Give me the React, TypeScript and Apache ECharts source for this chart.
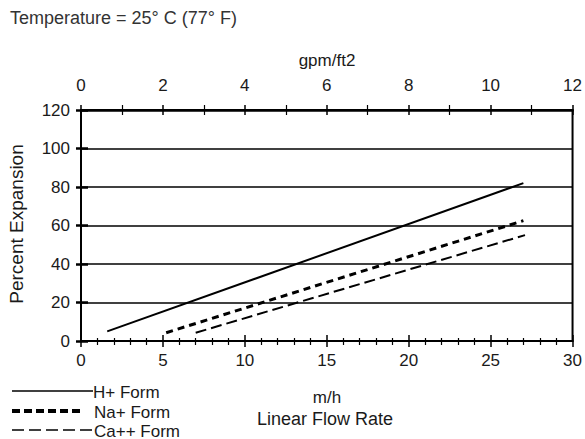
import React, { useEffect, useRef } from "react";
import * as echarts from "echarts";

const hX = [1.6, 27];
const hY = [5, 82];
const naX = [5.2, 27];
const naY = [4.3, 62.5];
const caX = [7, 27.1];
const caY = [4.3, 55];

const bottomTicks = [0, 5, 10, 15, 20, 25, 30];
const topTicks = [0, 2, 4, 6, 8, 10, 12];
const yTicks = [0, 20, 40, 60, 80, 100, 120];

const FONT = "Liberation Sans, Arial, Helvetica, sans-serif";
const TXT = "#1a1a1a";

const pairs = (xs: number[], ys: number[]) => xs.map((x, i) => [x, ys[i]]);

export default function App() {
  const ref = useRef<HTMLDivElement>(null);
  useEffect(() => {
    if (!ref.current) return;
    const chart = echarts.init(ref.current, undefined, { renderer: "svg" });
    const labelStyle = { fontFamily: FONT, fontSize: 17, color: TXT };
    const baseX = {
      type: "value" as const,
      min: bottomTicks[0],
      max: bottomTicks[bottomTicks.length - 1],
      interval: 5,
      splitLine: { show: false },
    };
    const topX = {
      type: "value" as const,
      min: topTicks[0],
      max: topTicks[topTicks.length - 1],
      interval: 2,
      splitLine: { show: false },
      position: "top" as const,
    };
    const baseY = {
      type: "value" as const,
      min: yTicks[0],
      max: yTicks[yTicks.length - 1],
      interval: 20,
    };
    chart.setOption({
      animation: false,
      backgroundColor: "#ffffff",
      grid: {
        left: 81,
        right: 11,
        top: 110,
        bottom: 98,
        show: true,
        borderColor: "#000",
        borderWidth: 2,
        backgroundColor: "transparent",
      },
      xAxis: [
        {
          ...baseX,
          position: "bottom",
          axisLine: { show: true, lineStyle: { color: "#000", width: 2 } },
          axisTick: { show: true, inside: false, length: 6, lineStyle: { color: "#000", width: 1.5 } },
          minorTick: { show: true, splitNumber: 5, length: 4, lineStyle: { color: "#000", width: 1.2 } },
          axisLabel: { ...labelStyle, margin: 11 },
        },
        {
          ...baseX,
          position: "bottom",
          axisLine: { show: false },
          axisTick: { show: true, inside: true, length: 6, lineStyle: { color: "#000", width: 1.5 } },
          minorTick: { show: true, splitNumber: 5, length: 3, lineStyle: { color: "#000", width: 1.2 } },
          axisLabel: { show: false },
        },
        {
          ...topX,
          axisLine: { show: true, lineStyle: { color: "#000", width: 2.5 } },
          axisTick: { show: true, inside: false, length: 5, lineStyle: { color: "#000", width: 1.5 } },
          minorTick: { show: true, splitNumber: 2, length: 5, lineStyle: { color: "#000", width: 1.2 } },
          axisLabel: { ...labelStyle, margin: 16 },
        },
        {
          ...topX,
          axisLine: { show: false },
          axisTick: { show: true, inside: true, length: 5, lineStyle: { color: "#000", width: 1.5 } },
          minorTick: { show: true, splitNumber: 2, length: 5, lineStyle: { color: "#000", width: 1.2 } },
          axisLabel: { show: false },
        },
      ],
      yAxis: [
        {
          ...baseY,
          position: "left",
          axisLine: { show: true, lineStyle: { color: "#000", width: 2 } },
          axisTick: { show: true, inside: false, length: 5, lineStyle: { color: "#000", width: 2.5 } },
          splitLine: { show: true, lineStyle: { color: "#000", width: 1.5 } },
          axisLabel: { ...labelStyle, margin: 11 },
        },
        {
          ...baseY,
          position: "left",
          axisLine: { show: false },
          axisTick: { show: true, inside: true, length: 7, lineStyle: { color: "#000", width: 2.5 } },
          splitLine: { show: false },
          axisLabel: { show: false },
        },
      ],
      series: [
        {
          name: "H+ Form",
          type: "line",
          xAxisIndex: 0,
          yAxisIndex: 0,
          data: pairs(hX, hY),
          showSymbol: false,
          lineStyle: { color: "#000", width: 2, type: "solid" },
        },
        {
          name: "Na+ Form",
          type: "line",
          xAxisIndex: 0,
          yAxisIndex: 0,
          data: pairs(naX, naY),
          showSymbol: false,
          lineStyle: { color: "#000", width: 3, type: [7, 5] },
        },
        {
          name: "Ca++ Form",
          type: "line",
          xAxisIndex: 0,
          yAxisIndex: 0,
          data: pairs(caX, caY),
          showSymbol: false,
          lineStyle: { color: "#000", width: 2, type: [11, 5] },
        },
      ],
      graphic: [
        {
          type: "text",
          x: 10,
          y: 18,
          style: { text: "Temperature = 25° C (77° F)", font: `18px ${FONT}`, fill: "#333", verticalAlign: "middle" },
        },
        {
          type: "text",
          x: 327,
          y: 60,
          style: { text: "gpm/ft2", font: `17px ${FONT}`, fill: TXT, align: "center", verticalAlign: "middle" },
        },
        {
          type: "text",
          x: 327,
          y: 397,
          style: { text: "m/h", font: `17px ${FONT}`, fill: TXT, align: "center", verticalAlign: "middle" },
        },
        {
          type: "text",
          x: 325,
          y: 419,
          style: { text: "Linear Flow Rate", font: `18px ${FONT}`, fill: TXT, align: "center", verticalAlign: "middle" },
        },
        {
          type: "text",
          x: 16,
          y: 224,
          rotation: Math.PI / 2,
          style: { text: "Percent Expansion", font: `19px ${FONT}`, fill: TXT, align: "center", verticalAlign: "middle" },
        },
        {
          type: "line",
          shape: { x1: 12, y1: 391, x2: 93, y2: 391 },
          style: { stroke: "#000", lineWidth: 1.5 },
        },
        {
          type: "text",
          x: 93,
          y: 392,
          style: { text: "H+ Form", font: `17px ${FONT}`, fill: TXT, verticalAlign: "middle" },
        },
        {
          type: "line",
          shape: { x1: 12, y1: 411, x2: 83, y2: 411 },
          style: { stroke: "#000", lineWidth: 4, lineDash: [8, 4] },
        },
        {
          type: "text",
          x: 94,
          y: 412,
          style: { text: "Na+ Form", font: `17px ${FONT}`, fill: TXT, verticalAlign: "middle" },
        },
        {
          type: "line",
          shape: { x1: 12, y1: 430, x2: 92, y2: 430 },
          style: { stroke: "#000", lineWidth: 1.5, lineDash: [12, 5] },
        },
        {
          type: "text",
          x: 94,
          y: 431,
          style: { text: "Ca++ Form", font: `17px ${FONT}`, fill: TXT, verticalAlign: "middle" },
        },
      ],
    });
    return () => chart.dispose();
  }, []);
  return (
    <div
      ref={ref}
      style={{ position: "absolute", left: 0, top: 0, width: 585, height: 439 }}
    />
  );
}
